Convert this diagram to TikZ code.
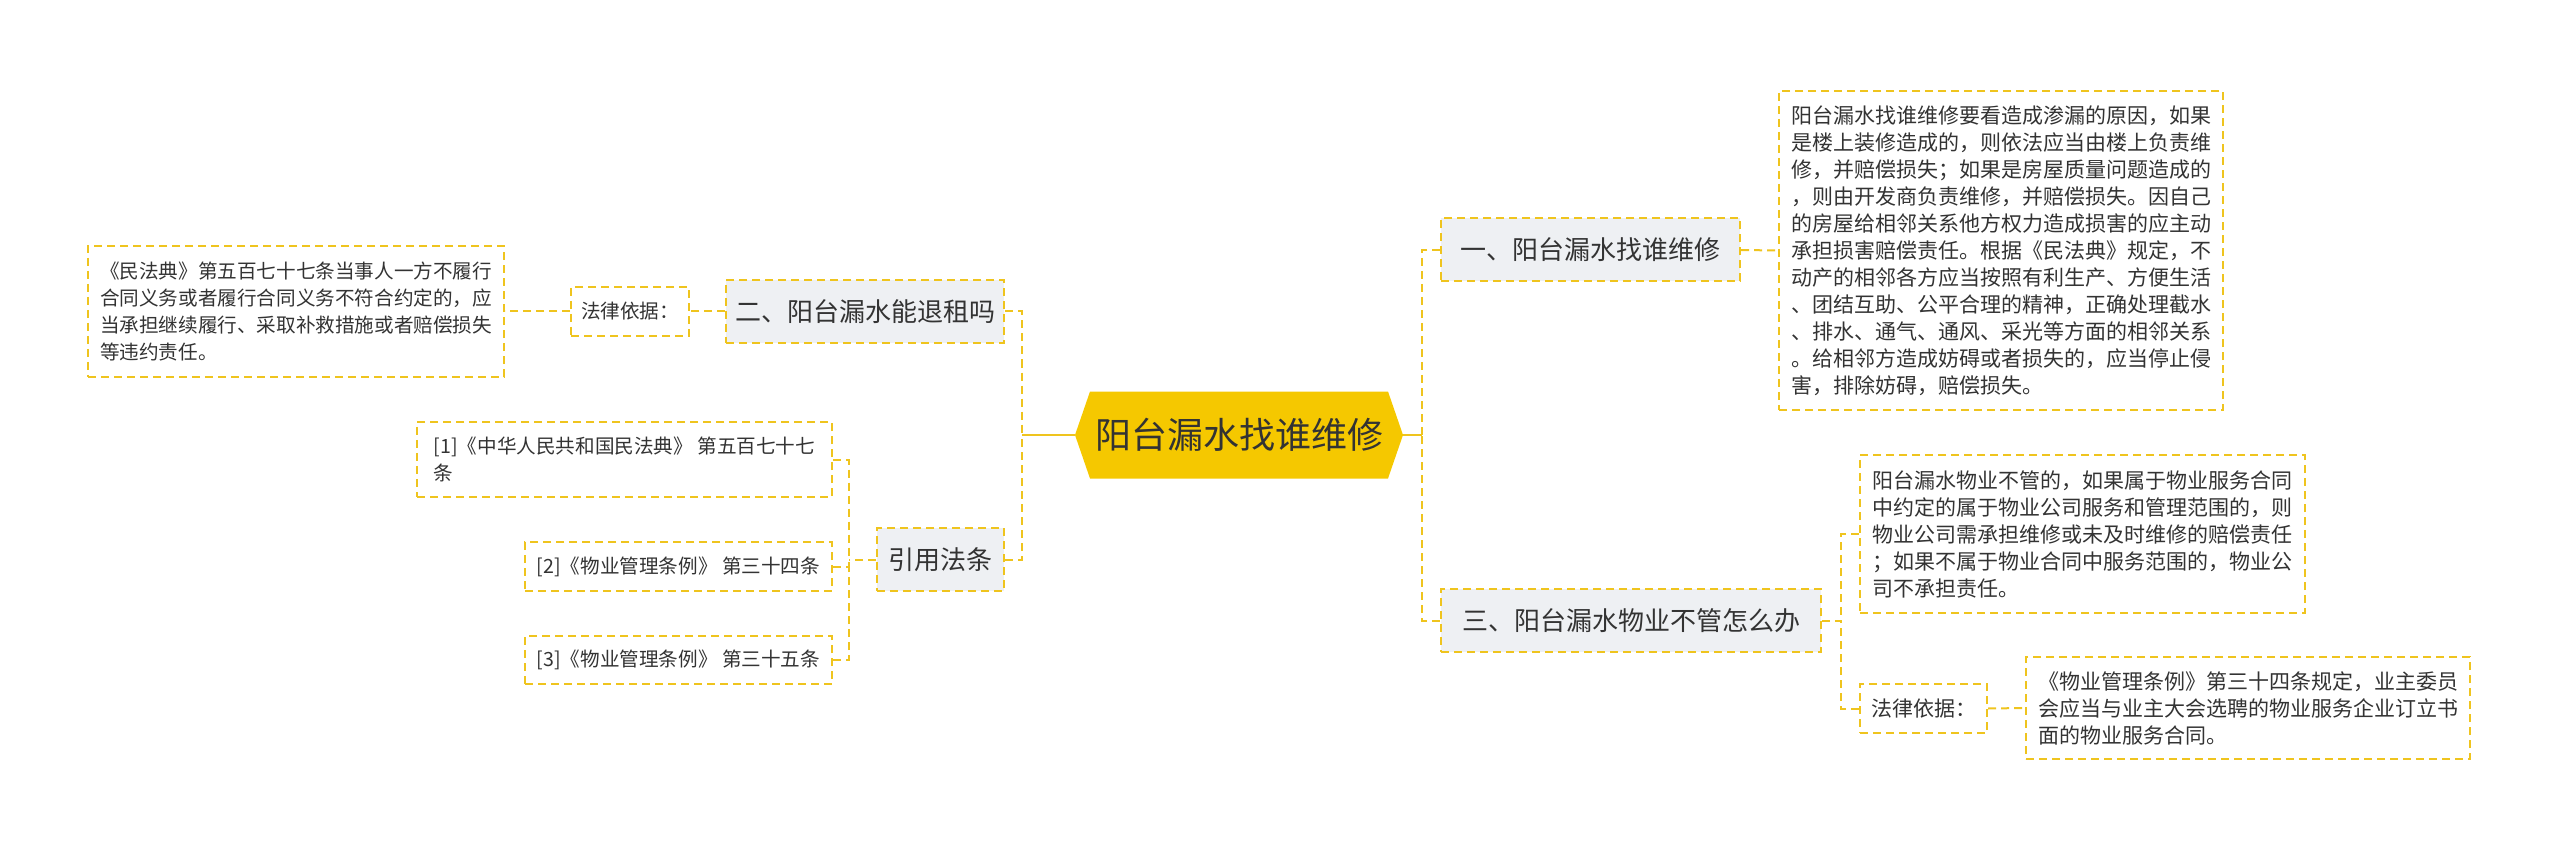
\documentclass[tikz,border=0pt]{standalone}
\usepackage{fontspec}
\setmainfont{Noto Sans CJK SC}
\usepackage{xcolor}
\usepackage{tikz}

\definecolor{linkgold}{HTML}{EFC41E}
\definecolor{rootgold}{HTML}{F5C800}
\definecolor{branchgray}{HTML}{EEF0F3}
\definecolor{textgray}{HTML}{333333}

\tikzset{
  link/.style={draw=linkgold, line width=1pt, dash pattern=on 4pt off 2.5pt},
  rootlink/.style={draw=linkgold, line width=1.2pt},
  rootnode/.style={rectangle, text=textgray, inner sep=0pt,
    font=\fontsize{18pt}{22pt}\selectfont,
    path picture={\fill[rootgold] (path picture bounding box.west)
      -- ([xshift=7.5pt]path picture bounding box.north west)
      -- ([xshift=-7.5pt]path picture bounding box.north east)
      -- (path picture bounding box.east)
      -- ([xshift=-7.5pt]path picture bounding box.south east)
      -- ([xshift=7.5pt]path picture bounding box.south west) -- cycle;}},
  branch/.style={draw=linkgold, line width=1pt, dash pattern=on 4pt off 2.5pt,
    fill=branchgray, text=textgray, font=\fontsize{13pt}{16pt}\selectfont,
    inner sep=0pt, minimum height=31.5pt},
  leaf/.style={draw=linkgold, line width=1pt, dash pattern=on 4pt off 2.5pt,
    fill=white, text=textgray, font=\fontsize{10.5pt}{13.5pt}\selectfont,
    align=left, inner sep=0pt},
  leftleaf/.style={leaf, font=\fontsize{9.8pt}{13.5pt}\selectfont},
}

\begin{document}
\begin{tikzpicture}[x=0.5pt, y=-0.5pt]
    \useasboundingbox (0,0) rectangle (2560,850);

    \node[rootnode, minimum width=164pt, minimum height=43.5pt] (root) at (1239,435) {阳台漏水找谁维修};

    \node[branch, minimum width=149.5pt] (b1) at (1590.5,250) {一、阳台漏水找谁维修};
    \node[branch, minimum width=190pt] (b3) at (1631,620.5) {三、阳台漏水物业不管怎么办};
    \node[branch, minimum width=139pt] (b2) at (865,311.5) {二、阳台漏水能退租吗};
    \node[branch, minimum width=63.5pt] (cite) at (940.5,559.5) {引用法条};

    \node[leaf, minimum width=222pt, minimum height=159.5pt] (r1) at (2001,250.5) {阳台漏水找谁维修要看造成渗漏的原因，如果\\是楼上装修造成的，则依法应当由楼上负责维\\修，并赔偿损失；如果是房屋质量问题造成的\\，则由开发商负责维修，并赔偿损失。因自己\\的房屋给相邻关系他方权力造成损害的应主动\\承担损害赔偿责任。根据《民法典》规定，不\\动产的相邻各方应当按照有利生产、方便生活\\、团结互助、公平合理的精神，正确处理截水\\、排水、通气、通风、采光等方面的相邻关系\\。给相邻方造成妨碍或者损失的，应当停止侵\\害，排除妨碍，赔偿损失。};
    \node[leaf, minimum width=222.5pt, minimum height=79pt] (r3a) at (2082.5,534) {阳台漏水物业不管的，如果属于物业服务合同\\中约定的属于物业公司服务和管理范围的，则\\物业公司需承担维修或未及时维修的赔偿责任\\；如果不属于物业合同中服务范围的，物业公\\司不承担责任。};
    \node[leaf, minimum width=63.5pt, minimum height=24.5pt] (rl) at (1923.5,708.5) {法律依据：};
    \node[leaf, minimum width=222pt, minimum height=51pt] (rt) at (2248,708) {《物业管理条例》第三十四条规定，业主委员\\会应当与业主大会选聘的物业服务企业订立书\\面的物业服务合同。};

    \node[leftleaf, minimum width=59pt, minimum height=24.5pt] (ll) at (630,311.5) {法律依据：};
    \node[leftleaf, minimum width=208pt, minimum height=65.5pt] (lt) at (296,311.5) {《民法典》第五百七十七条当事人一方不履行\\合同义务或者履行合同义务不符合约定的，应\\当承担继续履行、采取补救措施或者赔偿损失\\等违约责任。};
    \node[leftleaf, minimum width=207.5pt, minimum height=37.5pt] (c1) at (624.5,459.5) {[1]《中华人民共和国民法典》 第五百七十七\\条};
    \node[leftleaf, minimum width=153.5pt, minimum height=24.5pt] (c2) at (678.5,566.5) {[2]《物业管理条例》 第三十四条};
    \node[leftleaf, minimum width=153.5pt, minimum height=24pt] (c3) at (678.5,660) {[3]《物业管理条例》 第三十五条};

    \coordinate (rtrunk) at (1422,435);
    \coordinate (ltrunk) at (1022,435);
    \coordinate (t3) at (1841,620.5);
    \coordinate (tc) at (849,559.5);

    \draw[rootlink] (root.east) -- (rtrunk);
    \draw[rootlink] (root.west) -- (ltrunk);
    \draw[link] (b1.west) -| (rtrunk);
    \draw[link] (b3.west) -| (rtrunk);
    \draw[link] (b2.east) -| (ltrunk);
    \draw[link] (cite.east) -| (ltrunk);

    \draw[link] (b1.east) -- (r1.west);
    \draw[link] (b3.east) -- (t3);
    \draw[link] (r3a.west) -| (t3);
    \draw[link] (rl.west) -| (t3);
    \draw[link] (rl.east) -- (rt.west);

    \draw[link] (b2.west) -- (ll.east);
    \draw[link] (ll.west) -- (lt.east);
    \draw[link] (cite.west) -- (tc);
    \draw[link] (c1.east) -| (tc);
    \draw[link] (c2.east) -| (tc);
    \draw[link] (c3.east) -| (tc);
\end{tikzpicture}
\end{document}
